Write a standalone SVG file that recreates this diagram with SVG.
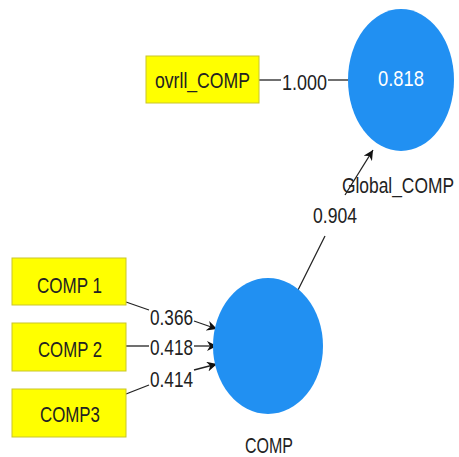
<svg xmlns="http://www.w3.org/2000/svg" width="459" height="457" viewBox="0 0 459 457">
  <style>
    .ind rect { fill: #ffff00; stroke: #c9c62a; stroke-width: 1; }
    .lv ellipse { fill: #2190f2; }
    text { font-family: "Liberation Sans", Arial, sans-serif; fill: #222; }
    .nm { font-size: 22px; text-anchor: middle; }
    .w { font-size: 22px; text-anchor: middle; }
    .r2 { fill: #ffffff; font-size: 22px; text-anchor: middle; }
    .edge { stroke: #222; stroke-width: 1.3; fill: none; }
  </style>
  <defs>
    <marker id="arr" viewBox="0 0 10 10" refX="10" refY="5" markerWidth="10" markerHeight="10" markerUnits="userSpaceOnUse" orient="auto">
      <path d="M0,0 L10,5 L0,10 L3,5 Z" fill="#111"/>
    </marker>
  </defs>
  <rect width="459" height="457" fill="#ffffff"/>

  <g id="connectors">
    <!-- ovrll_COMP — Global_COMP -->
    <path class="edge" d="M259,80 L281,80"/>
    <path class="edge" d="M328,80 L348,80"/>
    <text class="w" x="304.5" y="90" textLength="45" lengthAdjust="spacingAndGlyphs">1.000</text>
    <!-- COMP -> Global_COMP -->
    <path class="edge" d="M298,290 L325,236"/>
    <path class="edge" d="M345,195 L373,150" marker-end="url(#arr)"/>
    <text class="w" x="335" y="223" textLength="44" lengthAdjust="spacingAndGlyphs">0.904</text>
    <!-- COMP 1 -> COMP -->
    <path class="edge" d="M126,302 L149,310"/>
    <path class="edge" d="M194,321 L217,329" marker-end="url(#arr)"/>
    <text class="w" x="171.5" y="325" textLength="43" lengthAdjust="spacingAndGlyphs">0.366</text>
    <!-- COMP 2 -> COMP -->
    <path class="edge" d="M126,346 L149,346"/>
    <path class="edge" d="M194,346 L217,346" marker-end="url(#arr)"/>
    <text class="w" x="171.5" y="355" textLength="43" lengthAdjust="spacingAndGlyphs">0.418</text>
    <!-- COMP3 -> COMP -->
    <path class="edge" d="M126,394 L149,385"/>
    <path class="edge" d="M194,370 L217,364" marker-end="url(#arr)"/>
    <text class="w" x="171.5" y="387" textLength="43" lengthAdjust="spacingAndGlyphs">0.414</text>
  </g>

  <g id="ovrll_COMP" class="ind">
    <rect x="146" y="56" width="113" height="47"/>
    <text class="nm" x="202.5" y="88" textLength="95" lengthAdjust="spacingAndGlyphs">ovrll_COMP</text>
  </g>

  <g id="COMP1" class="ind">
    <rect x="12" y="258" width="114" height="47"/>
    <text class="nm" x="69.5" y="293" textLength="65" lengthAdjust="spacingAndGlyphs">COMP 1</text>
  </g>

  <g id="COMP2" class="ind">
    <rect x="12" y="323" width="114" height="48"/>
    <text class="nm" x="70" y="357" textLength="64" lengthAdjust="spacingAndGlyphs">COMP 2</text>
  </g>

  <g id="COMP3" class="ind">
    <rect x="12" y="389" width="114" height="48"/>
    <text class="nm" x="70" y="422" textLength="60" lengthAdjust="spacingAndGlyphs">COMP3</text>
  </g>

  <g id="Global_COMP" class="lv">
    <ellipse cx="401" cy="80" rx="53" ry="71"/>
    <text class="r2" x="401" y="86" textLength="46" lengthAdjust="spacingAndGlyphs">0.818</text>
    <text class="nm" x="398" y="193" textLength="112" lengthAdjust="spacingAndGlyphs">Global_COMP</text>
  </g>

  <g id="COMP" class="lv">
    <ellipse cx="268" cy="346" rx="55" ry="68"/>
    <text class="nm" x="269" y="453" textLength="48" lengthAdjust="spacingAndGlyphs">COMP</text>
  </g>
</svg>
